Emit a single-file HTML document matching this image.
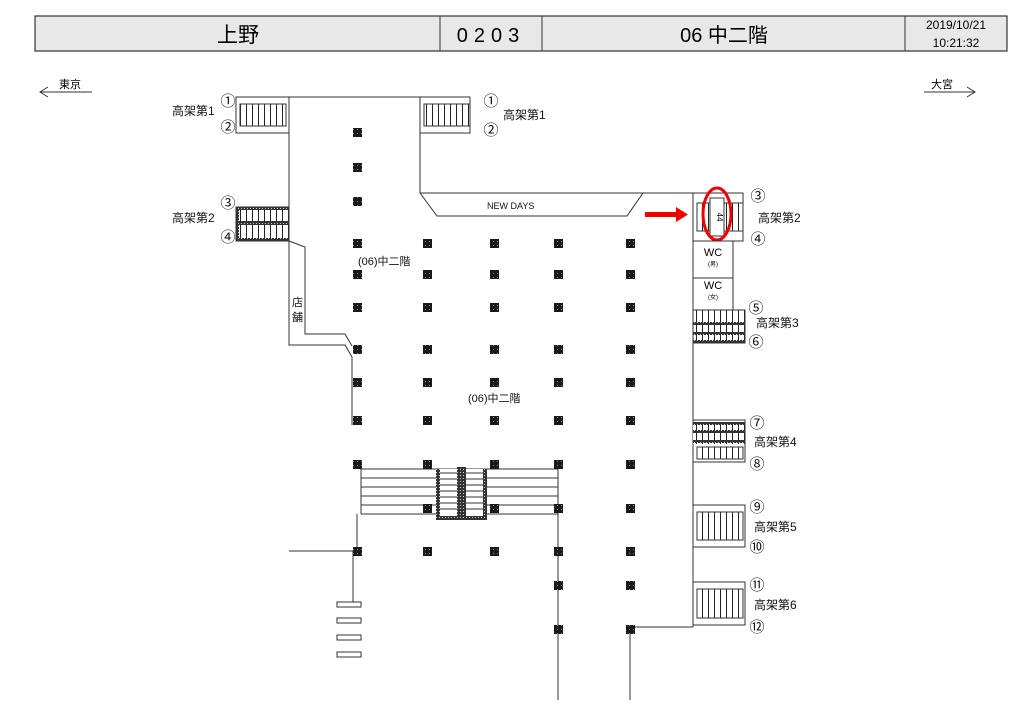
<!DOCTYPE html>
<html><head><meta charset="utf-8"><style>
body{margin:0;background:#fff;}
svg{display:block;font-family:"Liberation Sans","Noto Sans CJK JP",sans-serif;}
</style></head><body>
<svg width="1024" height="724" viewBox="0 0 1024 724" xmlns="http://www.w3.org/2000/svg">
<defs>
<pattern id="st" patternUnits="userSpaceOnUse" width="6" height="10"><rect width="6" height="10" fill="#fff"/><line x1="0.5" y1="0" x2="0.5" y2="10" stroke="#222" stroke-width="1"/></pattern>
<pattern id="pl" patternUnits="userSpaceOnUse" width="4" height="4"><rect width="4" height="4" fill="#1a1a1a"/><rect x="1" y="1" width="1" height="1" fill="#888"/></pattern>
<pattern id="dt" patternUnits="userSpaceOnUse" width="3" height="3"><rect width="3" height="3" fill="#333"/><rect x="1" y="1" width="1" height="1" fill="#ccc"/></pattern>
</defs>
<!-- header -->
<rect x="35" y="16" width="972" height="35" fill="#e8e8e8" stroke="#333" stroke-width="1.2"/>
<line x1="440" y1="16" x2="440" y2="51" stroke="#333"/>
<line x1="542" y1="16" x2="542" y2="51" stroke="#333"/>
<line x1="905" y1="16" x2="905" y2="51" stroke="#333"/>
<text x="238" y="42" font-size="21" text-anchor="middle">上野</text>
<text x="491" y="42" font-size="20" text-anchor="middle" letter-spacing="6">0203</text>
<text x="724" y="42" font-size="20" text-anchor="middle">06 中二階</text>
<text x="956" y="29" font-size="12" text-anchor="middle">2019/10/21</text>
<text x="956" y="47" font-size="12" text-anchor="middle">10:21:32</text>
<!-- direction -->
<text x="59" y="88" font-size="11">東京</text>
<line x1="40" y1="92" x2="92" y2="92" stroke="#333"/>
<polyline points="48,87 40,92 48,97" fill="none" stroke="#333"/>
<text x="931" y="88" font-size="11">大宮</text>
<line x1="924" y1="92" x2="975" y2="92" stroke="#333"/>
<polyline points="967,87 975,92 967,97" fill="none" stroke="#333"/>

<g fill="none" stroke="#333" stroke-width="1">
<line x1="289" y1="97" x2="420" y2="97"/>
<line x1="289" y1="133" x2="289" y2="207"/>
<polyline points="420,133 420,193 693,193"/>
<polyline points="420,193 437,216 627,216 643,193"/>
<polyline points="289,241 289,345 345,345 352,357 352,425"/>
<polyline points="289,241 305,247 305,334 345,334 352,346"/>
<line x1="693" y1="193" x2="693" y2="627"/>
<line x1="630" y1="627" x2="693" y2="627"/>
<line x1="630" y1="627" x2="630" y2="700"/>
<line x1="558" y1="464" x2="558" y2="700"/>
<line x1="361" y1="469" x2="361" y2="514"/>
<line x1="357" y1="514" x2="357" y2="551"/>
<line x1="289" y1="551" x2="353" y2="551"/>
<line x1="353" y1="551" x2="353" y2="602"/>
<rect x="337" y="602" width="24" height="5"/>
<rect x="337" y="618" width="24" height="5"/>
<rect x="337" y="635" width="24" height="5"/>
<rect x="337" y="652" width="24" height="5"/>
<g>
<line x1="361" y1="469" x2="558" y2="469"/><line x1="361" y1="478" x2="558" y2="478"/>
<line x1="361" y1="487" x2="558" y2="487"/><line x1="361" y1="496" x2="558" y2="496"/>
<line x1="361" y1="505" x2="558" y2="505"/><line x1="361" y1="514" x2="558" y2="514"/>
</g>
</g>
<rect x="436" y="469" width="51" height="51" fill="#fff"/>
<g stroke="#333" stroke-width="1">
<line x1="440" y1="473" x2="483" y2="473"/><line x1="440" y1="479" x2="483" y2="479"/><line x1="440" y1="485" x2="483" y2="485"/><line x1="440" y1="491" x2="483" y2="491"/><line x1="440" y1="497" x2="483" y2="497"/><line x1="440" y1="503" x2="483" y2="503"/><line x1="440" y1="509" x2="483" y2="509"/>
</g>
<rect x="436" y="469" width="4" height="51" fill="url(#dt)"/>
<rect x="483" y="469" width="4" height="51" fill="url(#dt)"/>
<rect x="436" y="516" width="51" height="4" fill="url(#dt)"/>
<rect x="457" y="467" width="9" height="51" fill="url(#dt)"/>

<rect x="236" y="97" width="53" height="36" fill="#fff" stroke="#333"/>
<rect x="240" y="104" width="46" height="22" fill="url(#st)" stroke="#333"/>
<rect x="420" y="97" width="50" height="36" fill="#fff" stroke="#333"/>
<rect x="424" y="104" width="46" height="22" fill="url(#st)" stroke="#333"/>
<rect x="236" y="207" width="53" height="34" fill="url(#st)" stroke="#333"/>
<rect x="236" y="207" width="53" height="3" fill="url(#dt)"/>
<rect x="236" y="221" width="53" height="4" fill="url(#dt)"/>
<rect x="236" y="238" width="53" height="3" fill="url(#dt)"/>
<rect x="236" y="207" width="3" height="34" fill="url(#dt)"/>

<rect x="693" y="193" width="50" height="48" fill="#fff" stroke="#333"/>
<rect x="697" y="203" width="46" height="28" fill="url(#st)" stroke="#333"/>
<rect x="710" y="198" width="14" height="38" fill="#fff" stroke="#333"/>
<text x="717" y="217" font-size="8" text-anchor="middle" transform="rotate(90 717 217)">44</text>
<ellipse cx="717" cy="214" rx="14" ry="26" fill="none" stroke="#e00" stroke-width="3"/>
<rect x="645" y="212" width="32" height="5" fill="#e00"/>
<polygon points="676,207 688,214.5 676,222" fill="#e00"/>
<rect x="693" y="241" width="40" height="37" fill="#fff" stroke="#333"/>
<rect x="693" y="278" width="40" height="32" fill="#fff" stroke="#333"/>
<text x="713" y="256" font-size="11" text-anchor="middle">WC</text>
<text x="713" y="266" font-size="6" text-anchor="middle">(男)</text>
<text x="713" y="289" font-size="11" text-anchor="middle">WC</text>
<text x="713" y="299" font-size="6" text-anchor="middle">(女)</text>
<rect x="693" y="310" width="52" height="33" fill="url(#st)" stroke="#333"/>
<rect x="693" y="322" width="52" height="3" fill="url(#dt)"/>
<rect x="693" y="332" width="52" height="3" fill="url(#dt)"/>
<rect x="693" y="340" width="52" height="3" fill="url(#dt)"/>
<rect x="693" y="420" width="52" height="42" fill="#fff" stroke="#333"/>
<rect x="693" y="422" width="52" height="22" fill="url(#st)"/>
<rect x="693" y="422" width="52" height="3" fill="url(#dt)"/>
<rect x="693" y="430" width="52" height="3" fill="url(#dt)"/>
<rect x="693" y="440" width="52" height="3" fill="url(#dt)"/>
<rect x="697" y="447" width="46" height="12" fill="url(#st)" stroke="#333"/>
<rect x="693" y="505" width="52" height="42" fill="#fff" stroke="#333"/>
<rect x="697" y="512" width="46" height="28" fill="url(#st)" stroke="#333"/>
<rect x="693" y="582" width="52" height="43" fill="#fff" stroke="#333"/>
<rect x="697" y="589" width="46" height="29" fill="url(#st)" stroke="#333"/>

<g fill="url(#pl)">
<rect x="353" y="128" width="9" height="9"/><rect x="353" y="163" width="9" height="9"/><rect x="353" y="197" width="9" height="9"/>
<rect x="353" y="239" width="9" height="9"/><rect x="353" y="270" width="9" height="9"/><rect x="353" y="303" width="9" height="9"/>
<rect x="353" y="345" width="9" height="9"/><rect x="353" y="378" width="9" height="9"/><rect x="353" y="416" width="9" height="9"/>
<rect x="353" y="460" width="9" height="9"/><rect x="353" y="547" width="9" height="9"/>
<rect x="423" y="239" width="9" height="9"/><rect x="423" y="270" width="9" height="9"/><rect x="423" y="303" width="9" height="9"/><rect x="423" y="345" width="9" height="9"/><rect x="423" y="378" width="9" height="9"/><rect x="423" y="416" width="9" height="9"/><rect x="423" y="460" width="9" height="9"/><rect x="423" y="504" width="9" height="9"/><rect x="423" y="547" width="9" height="9"/>
<rect x="490" y="239" width="9" height="9"/><rect x="490" y="270" width="9" height="9"/><rect x="490" y="303" width="9" height="9"/><rect x="490" y="345" width="9" height="9"/><rect x="490" y="378" width="9" height="9"/><rect x="490" y="416" width="9" height="9"/><rect x="490" y="460" width="9" height="9"/><rect x="490" y="504" width="9" height="9"/><rect x="490" y="547" width="9" height="9"/>
<rect x="554" y="239" width="9" height="9"/><rect x="554" y="270" width="9" height="9"/><rect x="554" y="303" width="9" height="9"/><rect x="554" y="345" width="9" height="9"/><rect x="554" y="378" width="9" height="9"/><rect x="554" y="416" width="9" height="9"/><rect x="554" y="460" width="9" height="9"/><rect x="554" y="504" width="9" height="9"/><rect x="554" y="547" width="9" height="9"/><rect x="554" y="581" width="9" height="9"/><rect x="554" y="625" width="9" height="9"/>
<rect x="626" y="239" width="9" height="9"/><rect x="626" y="270" width="9" height="9"/><rect x="626" y="303" width="9" height="9"/><rect x="626" y="345" width="9" height="9"/><rect x="626" y="378" width="9" height="9"/><rect x="626" y="416" width="9" height="9"/><rect x="626" y="460" width="9" height="9"/><rect x="626" y="504" width="9" height="9"/><rect x="626" y="547" width="9" height="9"/><rect x="626" y="581" width="9" height="9"/><rect x="626" y="625" width="9" height="9"/>
</g>

<g font-size="12" fill="#111">
<text x="172" y="115">高架第1</text>
<text x="503" y="119">高架第1</text>
<text x="172" y="222">高架第2</text>
<text x="758" y="222">高架第2</text>
<text x="756" y="327">高架第3</text>
<text x="754" y="446">高架第4</text>
<text x="754" y="531">高架第5</text>
<text x="754" y="609">高架第6</text>
<text x="358" y="265" font-size="11">(06)中二階</text>
<text x="468" y="402" font-size="11">(06)中二階</text>
<text x="487" y="209" font-size="9">NEW DAYS</text>
<text x="292" y="306" font-size="11">店</text>
<text x="292" y="321" font-size="11">舗</text>
</g>
<g font-size="15" fill="#111" text-anchor="middle">
<text x="228" y="106">①</text><text x="228" y="132">②</text>
<text x="491" y="106">①</text><text x="491" y="135">②</text>
<text x="228" y="208">③</text><text x="228" y="242">④</text>
<text x="758" y="201">③</text><text x="758" y="244">④</text>
<text x="756" y="313">⑤</text><text x="756" y="347">⑥</text>
<text x="757" y="428">⑦</text><text x="757" y="469">⑧</text>
<text x="757" y="512">⑨</text><text x="757" y="552">⑩</text>
<text x="757" y="590">⑪</text><text x="757" y="632">⑫</text>
</g>
</svg>
</body></html>
